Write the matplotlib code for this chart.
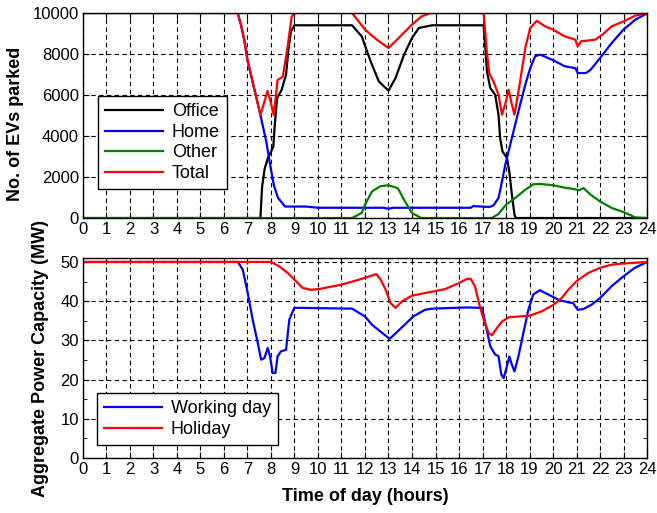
# Parked EVs by location and aggregate charging capacity over one day

import numpy as np
import matplotlib.pyplot as plt

plt.rcParams['font.family'] = ['Liberation Sans', 'DejaVu Sans']

# --- number of EVs parked (working day) ---
t_office = [0, 7.55, 7.62, 7.73, 7.87, 8.0, 8.1, 8.16, 8.26, 8.45, 8.64, 8.75, 8.85, 9.0,
            11.45, 11.86, 12.24, 12.59, 13.0, 13.3, 13.66, 14.0, 14.29, 14.85,
            17.05, 17.19, 17.33, 17.54, 17.68, 17.75, 17.85, 18.04, 18.14, 18.25, 18.36, 18.42, 24]
office = [0, 0, 1500, 2400, 2930, 3230, 3500, 4540, 5850, 6240, 6980, 8300, 9100, 9400,
          9400, 8860, 7640, 6660, 6210, 6830, 7960, 8780, 9270, 9400,
          9400, 7150, 6340, 6010, 5040, 3900, 3250, 2930, 2270, 1140, 160, 0, 0]

t_home = [0, 6.58, 6.72, 6.86, 7.0, 7.2, 7.4, 7.55, 7.8, 7.94, 8.12, 8.3, 8.6, 9.5, 10.0,
          12.8, 13.0, 13.2, 16.5, 16.6, 17.3, 17.47, 17.68, 17.83, 17.97, 18.18, 18.39, 18.6,
          18.82, 19.03, 19.24, 19.45, 19.8, 20.0, 20.5, 20.95, 21.05, 21.4, 21.6, 22.0,
          22.5, 23.0, 23.5, 24]
home = [10000, 10000, 9430, 8700, 7700, 6730, 5760, 5020, 3720, 2750, 1610, 980, 560, 560, 500,
        500, 450, 500, 500, 580, 540, 620, 975, 1790, 2600, 3580, 4550, 5530,
        6500, 7310, 7890, 7970, 7800, 7700, 7400, 7310, 7070, 7070, 7230, 7800,
        8540, 9190, 9670, 9980]

t_other = [0, 11.45, 11.86, 12.0, 12.3, 12.65, 13.0, 13.4, 13.7, 14.0, 14.4,
           17.4, 17.68, 18.0, 18.39, 18.82, 19.17, 19.45, 20.0, 20.5, 20.95, 21.1, 21.3,
           21.6, 22.0, 22.5, 23.0, 23.5, 24]
other = [0, 0, 250, 650, 1300, 1550, 1600, 1450, 810, 240, 0,
         0, 200, 650, 975, 1380, 1650, 1660, 1600, 1480, 1400, 1350, 1460,
         1140, 810, 490, 290, 30, 0]

t_total = [0, 6.58, 6.72, 6.86, 7.0, 7.2, 7.4, 7.55, 7.7, 7.85, 8.0, 8.12, 8.28, 8.5, 8.7,
           8.88, 9.0, 11.45, 12.0, 12.5, 13.0, 13.5, 14.0, 14.4, 14.8,
           17.05, 17.19, 17.29, 17.47, 17.68, 17.83, 18.0, 18.11, 18.25, 18.36, 18.6,
           18.82, 19.03, 19.31, 19.66, 20.0, 20.5, 20.95, 21.05, 21.2, 21.8, 22.1, 22.5,
           23.0, 23.5, 24]
total = [10000, 10000, 9430, 8700, 7700, 6730, 5760, 5020, 5600, 6200, 5600, 5020, 6730, 6890, 8300,
         9820, 10000, 10000, 9190, 8700, 8290, 8860, 9430, 9830, 10000,
         10000, 8030, 7050, 6660, 6010, 5040, 5690, 6260, 5530, 5040, 6660,
         8290, 9270, 9620, 9350, 9190, 8860, 8700, 8370, 8620, 8700, 8940, 9350,
         9590, 9870, 10000]

# --- aggregate power capacity (MW) ---
t_work = [0, 6.59, 6.8, 7.01, 7.22, 7.44, 7.58, 7.72, 7.86, 7.96, 8.07, 8.19, 8.28, 8.42, 8.64,
          8.78, 8.99, 9.2, 11.45, 12.0, 12.3, 12.65, 13.05, 13.55, 14.05, 14.55, 14.85,
          16.3, 16.98, 17.12, 17.33, 17.54, 17.68, 17.8, 17.9, 18.0, 18.14, 18.25, 18.36,
          18.53, 18.74, 18.95, 19.16, 19.44, 19.8, 20.22, 20.65, 20.86, 21.05, 21.29,
          21.64, 22.0, 22.49, 22.99, 23.48, 24]
work = [50, 50, 48.0, 42.1, 35.3, 29.3, 25.1, 25.5, 28.1, 25.9, 21.7, 21.7, 25.9, 27.2, 27.6,
        35.3, 38.3, 38.3, 38.1, 36.1, 34.0, 32.3, 30.4, 33.2, 36.1, 37.8, 38.1,
        38.4, 38.3, 34.4, 28.5, 26.4, 26.0, 21.3, 20.4, 22.5, 25.9, 23.8, 22.1,
        26.0, 31.9, 37.8, 41.7, 42.8, 41.7, 40.4, 39.7, 39.5, 37.8, 38.0,
        39.1, 40.8, 43.8, 46.3, 48.5, 50]

t_hol = [0, 8.0, 8.35, 8.71, 9.06, 9.34, 9.7, 10.05, 10.99, 11.75, 12.17, 12.48, 12.67, 12.88,
         13.09, 13.3, 13.58, 14.0, 14.57, 15.42, 15.99, 16.34, 16.5, 16.68, 16.85, 17.05,
         17.26, 17.4, 17.62, 17.83, 18.11, 18.53, 19.0, 19.52, 20.02, 20.37, 20.65, 21.0,
         21.5, 22.0, 22.49, 22.99, 24]
hol = [50, 50, 48.9, 47.2, 45.1, 43.4, 42.9, 43.1, 44.2, 45.5, 46.3, 46.9, 45.5, 42.9,
       39.5, 38.3, 40.0, 41.4, 42.1, 43.1, 44.6, 45.7, 45.7, 43.8, 39.5, 35.3,
       31.9, 31.3, 33.2, 34.8, 35.9, 36.1, 36.3, 37.4, 39.1, 40.8, 42.9, 45.1,
       47.2, 48.5, 49.3, 49.6, 50]

hours = np.arange(0, 25)

fig = plt.figure(figsize=(6.57, 5.13), dpi=100)
ax1 = fig.add_axes([0.1263, 0.575, 0.8585, 0.3997])
ax2 = fig.add_axes([0.1263, 0.107, 0.8585, 0.390])

lw = 1.6
ax1.plot(t_office, office, color='black', lw=lw, label='Office')
ax1.plot(t_home, home, color='blue', lw=lw, label='Home')
ax1.plot(t_other, other, color=(0, 0.5, 0), lw=lw, label='Other')
ax1.plot(t_total, total, color='red', lw=lw, label='Total')
ax1.set_ylim(0, 10000)
ax1.set_yticks(np.arange(0, 10001, 2000))
ax1.set_ylabel('No. of EVs parked', fontsize=13, fontweight='bold')
ax1.yaxis.set_label_coords(-0.105, 0.46)

ax2.plot(t_work, work, color='blue', lw=lw, label='Working day')
ax2.plot(t_hol, hol, color='red', lw=lw, label='Holiday')
ax2.set_ylim(0, 51)
ax2.set_yticks(np.arange(0, 51, 10))
ax2.set_yticks(np.arange(5, 50, 10), minor=True)
ax2.set_ylabel('Aggregate Power Capacity (MW)', fontsize=13, fontweight='bold')
ax2.yaxis.set_label_coords(-0.06, 0.5)
ax2.set_xlabel('Time of day (hours)', fontsize=13, fontweight='bold', labelpad=8)

for ax in (ax1, ax2):
    ax.set_xlim(0, 24)
    ax.set_xticks(hours)
    ax.grid(True, color='black', linestyle=(0, (4, 3)), lw=0.8)
    ax.tick_params(direction='in', top=True, right=True, labelsize=12, length=4, pad=3)
    ax.tick_params(which='minor', direction='in', right=True, length=3)
    for s in ax.spines.values():
        s.set_linewidth(1.0)

leg_kw = dict(loc='upper left', fontsize=13, fancybox=False, framealpha=1,
              edgecolor='black', borderaxespad=0, handlelength=3.2, handletextpad=0.5,
              labelspacing=0.2, borderpad=0.4)
l1 = ax1.legend(bbox_to_anchor=(0.0265, 0.595), **leg_kw)
l2 = ax2.legend(bbox_to_anchor=(0.0247, 0.325), **leg_kw)
for lg in (l1, l2):
    lg.get_frame().set_linewidth(1.0)

fig.savefig('out.png', dpi=100)
